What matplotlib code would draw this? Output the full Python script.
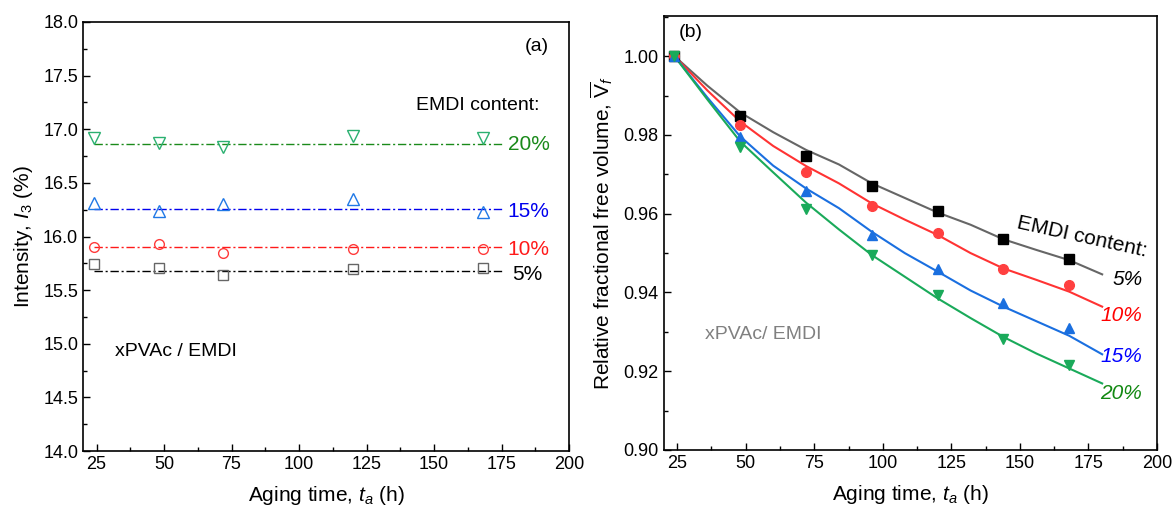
import matplotlib
matplotlib.use("Agg")
import matplotlib.pyplot as plt
from matplotlib.ticker import MultipleLocator

plt.rcParams['font.family'] = ['Liberation Sans', 'DejaVu Sans']
plt.rcParams['mathtext.fontset'] = 'custom'
plt.rcParams['mathtext.rm'] = 'Liberation Sans'
plt.rcParams['mathtext.it'] = 'Liberation Sans:italic'

# ---- data, panel (a): I3 intensity
hours = [24, 48, 72, 120, 168]
i3_5 = [15.74, 15.71, 15.64, 15.70, 15.71]
i3_10 = [15.90, 15.93, 15.85, 15.88, 15.88]
i3_15 = [16.31, 16.24, 16.30, 16.35, 16.23]
i3_20 = [16.92, 16.87, 16.83, 16.94, 16.92]
mean_x = [24, 175]
mean_5 = 15.68
mean_10 = 15.90
mean_15 = 16.26
mean_20 = 16.86

# ---- data, panel (b): relative fractional free volume
hours_b = [24, 48, 72, 96, 120, 144, 168]
vf_5 = [1.000, 0.9847, 0.9747, 0.9670, 0.9607, 0.9535, 0.9484]
vf_10 = [1.000, 0.9825, 0.9706, 0.9620, 0.9550, 0.9459, 0.9419]
vf_15 = [1.000, 0.9796, 0.9658, 0.9546, 0.9459, 0.9374, 0.9309]
vf_20 = [1.000, 0.9769, 0.9611, 0.9495, 0.9393, 0.9281, 0.9217]

fit_x = [24, 36, 48, 60, 72, 84, 96, 108, 120, 132, 144, 156, 168, 180]
fit_5 = [1.000, 0.9925, 0.9857, 0.9807, 0.9762, 0.9725, 0.9677, 0.9640,
         0.9603, 0.9572, 0.9535, 0.9508, 0.9482, 0.9446]
fit_10 = [1.000, 0.9913, 0.9834, 0.9772, 0.9721, 0.9677, 0.9626, 0.9585,
          0.9546, 0.9500, 0.9461, 0.9432, 0.9402, 0.9364]
fit_15 = [1.000, 0.9895, 0.9796, 0.9722, 0.9664, 0.9614, 0.9554, 0.9500,
          0.9453, 0.9405, 0.9364, 0.9327, 0.9290, 0.9243]
fit_20 = [1.000, 0.9890, 0.9783, 0.9705, 0.9628, 0.9560, 0.9495, 0.9440,
          0.9385, 0.9335, 0.9287, 0.9245, 0.9207, 0.9169]

fig = plt.figure(figsize=(11.75, 5.18), dpi=100)
W, H = 1175.0, 518.0
ax1 = fig.add_axes([83 / W, (H - 451) / H, (569 - 83) / W, (451 - 22) / H])
ax2 = fig.add_axes([663.5 / W, (H - 450) / H, (1157 - 663.5) / W, (450 - 16) / H])

dash = (0, (6, 2, 1.5, 2))

# panel (a)
ax1.plot(mean_x, [mean_20] * 2, color='#1a8a1a', lw=1, ls=dash)
ax1.plot(mean_x, [mean_15] * 2, color='#0000ee', lw=1, ls=dash)
ax1.plot(mean_x, [mean_10] * 2, color='#ff1a1a', lw=1, ls=dash)
ax1.plot(mean_x, [mean_5] * 2, color='black', lw=1, ls=dash)
ax1.plot(hours, i3_20, 'v', ms=8, mfc='none', mec='#2ab070', mew=1)
ax1.plot(hours, i3_15, '^', ms=8, mfc='none', mec='#1f78e6', mew=1)
ax1.plot(hours, i3_10, 'o', ms=7, mfc='none', mec='#ff3b3b', mew=1)
ax1.plot(hours, i3_5, 's', ms=6.5, mfc='none', mec='#666666', mew=1)

ax1.set_xlim(20, 200)
ax1.set_ylim(14, 18)
ax1.xaxis.set_major_locator(MultipleLocator(25))
ax1.xaxis.set_minor_locator(MultipleLocator(12.5))
ax1.yaxis.set_major_locator(MultipleLocator(0.5))
ax1.yaxis.set_minor_locator(MultipleLocator(0.25))
ax1.yaxis.set_major_formatter(plt.FormatStrFormatter('%.1f'))
ax1.set_xlabel('Aging time, $t_a$ (h)', fontsize=15, labelpad=8)
ax1.set_ylabel('Intensity, $I_3$ (%)', fontsize=15, labelpad=6)

ax1.text(0.934, 0.944, '(a)', fontsize=14, ha='center', va='center', transform=ax1.transAxes)
ax1.text(0.94, 0.805, 'EMDI content:', fontsize=14, ha='right', va='center', transform=ax1.transAxes)
ax1.text(0.96, 0.714, '20%', fontsize=15, color='#1a8a1a', ha='right', va='center', transform=ax1.transAxes)
ax1.text(0.96, 0.558, '15%', fontsize=15, color='#0000ee', ha='right', va='center', transform=ax1.transAxes)
ax1.text(0.96, 0.470, '10%', fontsize=15, color='#ff1a1a', ha='right', va='center', transform=ax1.transAxes)
ax1.text(0.945, 0.412, '5%', fontsize=15, color='black', ha='right', va='center', transform=ax1.transAxes)
ax1.text(0.066, 0.232, 'xPVAc / EMDI', fontsize=14, ha='left', va='center', transform=ax1.transAxes)

# panel (b)
ax2.plot(fit_x, fit_5, color='#666666', lw=1.5)
ax2.plot(fit_x, fit_10, color='#ff3333', lw=1.5)
ax2.plot(fit_x, fit_15, color='#1a6fe0', lw=1.5)
ax2.plot(fit_x, fit_20, color='#1aaa5a', lw=1.5)
ax2.plot(hours_b, vf_5, 's', ms=6.5, color='black')
ax2.plot(hours_b, vf_10, 'o', ms=7, color='#ff4040')
ax2.plot(hours_b, vf_15, '^', ms=7.5, color='#1a6fdf')
ax2.plot(hours_b, vf_20, 'v', ms=7.5, color='#1aaa5a')

ax2.set_xlim(20, 200)
ax2.set_ylim(0.90, 1.0102)
ax2.xaxis.set_major_locator(MultipleLocator(25))
ax2.xaxis.set_minor_locator(MultipleLocator(12.5))
ax2.yaxis.set_major_locator(MultipleLocator(0.02))
ax2.yaxis.set_minor_locator(MultipleLocator(0.01))
ax2.yaxis.set_major_formatter(plt.FormatStrFormatter('%.2f'))
ax2.set_xlabel('Aging time, $t_a$ (h)', fontsize=15, labelpad=8)
ax2.set_ylabel(r'Relative fractional free volume, $\overline{\mathrm{V}}_f$', fontsize=15, labelpad=6)

ax2.text(0.03, 0.962, '(b)', fontsize=14, ha='left', va='center', transform=ax2.transAxes)
ax2.text(0.848, 0.49, 'EMDI content:', fontsize=15, ha='center', va='center', rotation=-12.5,
         transform=ax2.transAxes)
ax2.text(0.97, 0.392, '5%', fontsize=15, color='black', ha='right', va='center', style='italic',
         transform=ax2.transAxes)
ax2.text(0.97, 0.310, '10%', fontsize=15, color='#ff0000', ha='right', va='center', style='italic',
         transform=ax2.transAxes)
ax2.text(0.97, 0.216, '15%', fontsize=15, color='#0000ff', ha='right', va='center', style='italic',
         transform=ax2.transAxes)
ax2.text(0.97, 0.131, '20%', fontsize=15, color='#118811', ha='right', va='center', style='italic',
         transform=ax2.transAxes)
ax2.text(0.085, 0.265, 'xPVAc/ EMDI', fontsize=14, color='#808080', ha='left', va='center',
         transform=ax2.transAxes)

for ax in (ax1, ax2):
    ax.tick_params(which='both', direction='in', top=False, right=False, labelsize=13)
    ax.tick_params(which='major', length=5, width=1)
    ax.tick_params(which='minor', length=3, width=1)
    for s in ax.spines.values():
        s.set_linewidth(1.2)

fig.savefig('out.png', dpi=100)
